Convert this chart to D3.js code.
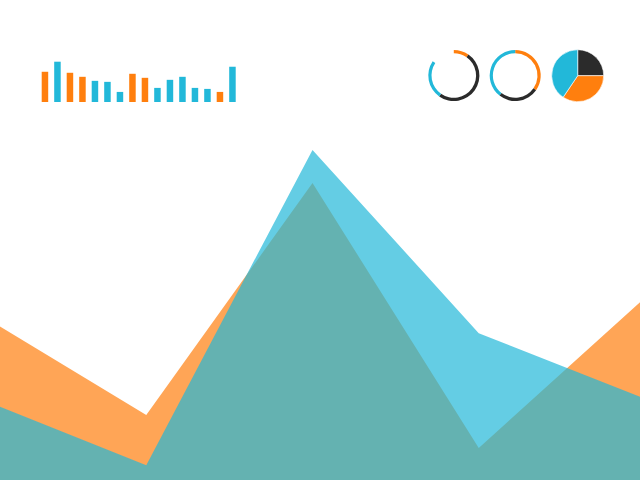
<!DOCTYPE html>
<html>
<head>
<meta charset="utf-8">
<script src="https://cdn.jsdelivr.net/npm/d3@7/dist/d3.min.js"></script>
<style>
html,body{margin:0;padding:0;background:#fff;overflow:hidden;}
svg{display:block;}
</style>
</head>
<body>
<svg id="c" width="640" height="480"></svg>
<script>
// ---- data ----
const ORANGE = "#ff7f0e", BLUE = "#22b8d9", DARK = "#2b2b2b";

// background area chart
const areaX = [0, 1, 2, 3, 4];
const orangeArea = [50.2, 19.7, 90, 9.7, 55.2];
const blueArea = [24.6, 4.5, 100, 44.5, 24.6];

// small bar chart
const barValues = [30, 40, 29, 25, 21, 20, 10, 28, 24, 14, 22, 25, 14, 13, 10, 35];
const barSeries = ["o","b","o","o","b","b","b","o","o","b","b","b","b","b","o","b"];

// rings (degrees of a full turn); "gap" is empty
const ring1 = [["o",35],["d",180],["b",89],["gap",56]];
const ring2 = [["o",125],["d",93],["b",142]];
const pieData = [["d",90],["o",124],["b",146]];

const colorOf = {o: ORANGE, b: BLUE, d: DARK, gap: "none"};

// ---- drawing ----
const svg = d3.select("#c");

// areas
const x = d3.scaleLinear().domain([0, 4]).range([-20, 645]);
const y = d3.scaleLinear().domain([0, 100]).range([480, 150]);
const area = d3.area().x((d, i) => x(areaX[i])).y0(y(-10)).y1(d => y(d));

svg.append("path").datum(orangeArea).attr("d", area)
  .attr("fill", ORANGE).attr("fill-opacity", 0.7);
svg.append("path").datum(blueArea).attr("d", area)
  .attr("fill", BLUE).attr("fill-opacity", 0.7);

// bars
const bx = d3.scaleBand().domain(d3.range(barValues.length))
  .range([41.7, 235.7]).paddingInner(0.48).paddingOuter(0);
const by = d3.scaleLinear().domain([0, 40]).range([102, 61.7]);
svg.append("g").selectAll("rect").data(barValues).join("rect")
  .attr("x", (d, i) => bx(i))
  .attr("width", bx.bandwidth())
  .attr("y", d => by(d))
  .attr("height", d => by(0) - by(d))
  .attr("fill", (d, i) => colorOf[barSeries[i]]);

// rings and pie
const pie = d3.pie().value(d => d[1]).sort(null);
function drawArcs(data, cx, cy, inner, outer, sep) {
  const arc = d3.arc().innerRadius(inner).outerRadius(outer);
  const g = svg.append("g").attr("transform", `translate(${cx},${cy})`);
  g.selectAll("path").data(pie(data)).join("path")
    .attr("d", arc)
    .attr("fill", d => colorOf[d.data[0]])
    .attr("stroke", sep ? "#fff" : "none")
    .attr("stroke-width", sep ? 0.6 : 0);
}
drawArcs(ring1, 453.8, 75.5, 22.3, 25.5, false);
drawArcs(ring2, 515.2, 75.5, 22.3, 25.5, false);
drawArcs(pieData, 577.7, 75.7, 0, 26, true);
</script>
</body>
</html>
